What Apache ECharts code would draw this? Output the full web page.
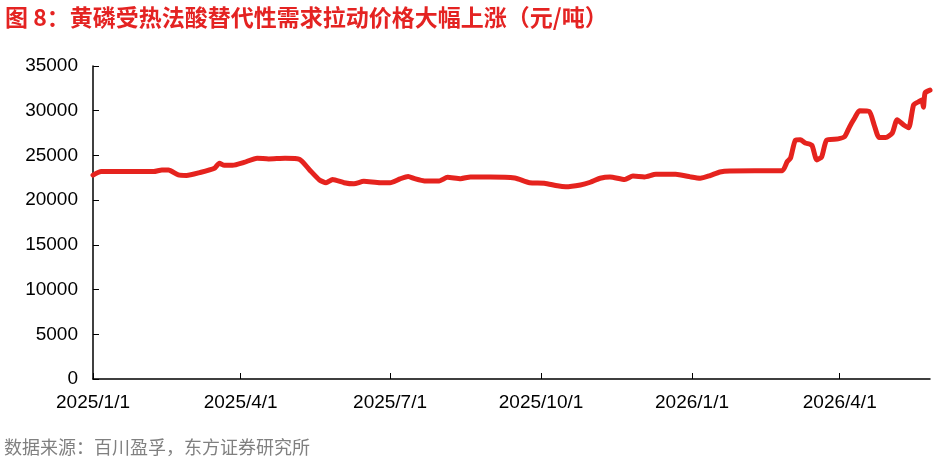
<!DOCTYPE html>
<html><head><meta charset="utf-8">
<script src="https://cdn.jsdelivr.net/npm/echarts@6/dist/echarts.min.js"></script>
<style>html,body{margin:0;padding:0;background:#fff;}#c{width:938px;height:459px;}</style>
</head><body><div id="c"></div>
<script>
const titleText = '图 8：黄磷受热法酸替代性需求拉动价格大幅上涨（元/吨）';
const sourceText = '数据来源：百川盈孚，东方证券研究所';
const dates = ['2025-01-01','2025-01-06','2025-02-07','2025-02-12','2025-02-16','2025-02-22','2025-02-27','2025-03-07','2025-03-16','2025-03-19','2025-03-22','2025-03-27','2025-04-03','2025-04-11','2025-04-18','2025-04-28','2025-05-07','2025-05-13','2025-05-19','2025-05-23','2025-05-27','2025-06-03','2025-06-09','2025-06-15','2025-06-25','2025-07-01','2025-07-07','2025-07-12','2025-07-16','2025-07-22','2025-07-31','2025-08-05','2025-08-13','2025-08-19','2025-08-31','2025-09-15','2025-09-24','2025-10-03','2025-10-11','2025-10-16','2025-10-25','2025-10-31','2025-11-06','2025-11-12','2025-11-21','2025-11-26','2025-12-03','2025-12-10','2025-12-22','2025-12-31','2026-01-06','2026-01-12','2026-01-18','2026-01-24','2026-02-25','2026-02-28','2026-03-02','2026-03-05','2026-03-08','2026-03-11','2026-03-15','2026-03-18','2026-03-21','2026-03-24','2026-03-31','2026-04-04','2026-04-07','2026-04-10','2026-04-13','2026-04-19','2026-04-22','2026-04-25','2026-04-29','2026-05-03','2026-05-06','2026-05-10','2026-05-13','2026-05-16','2026-05-19','2026-05-21','2026-05-22','2026-05-23','2026-05-26'];
const prices = [22800,23200,23200,23380,23380,22820,22760,23080,23570,24120,23900,23900,24220,24690,24610,24690,24550,23380,22260,21950,22300,21950,21820,22100,21950,21950,22370,22650,22400,22150,22150,22550,22400,22600,22600,22480,21950,21900,21600,21500,21700,22000,22450,22600,22300,22700,22600,22900,22900,22600,22450,22750,23150,23270,23300,24300,24700,26700,26750,26400,26150,24500,24850,26700,26850,27100,28200,29150,30000,29900,28400,27000,27000,27500,29000,28400,28100,30650,31000,31200,30400,32000,32300];
const tickDates = ['2025-01-01','2025-04-01','2025-07-01','2025-10-01','2026-01-01','2026-04-01'];
const yMin = 0, yMax = 35000, yStep = 5000;

function ts(s){ const p = s.split('-').map(Number); return Date.UTC(p[0], p[1]-1, p[2]); }
const seriesData = dates.map((d,i)=>[ts(d), prices[i]]);
const tickTs = tickDates.map(ts);

const chart = echarts.init(document.getElementById('c'));
chart.setOption({
  animation:false,
  backgroundColor:'#fff',
  title:[
    {text:titleText,left:0,top:1,textStyle:{color:'#e42322',fontSize:23,fontWeight:'bold',fontFamily:'"Noto Sans CJK SC", sans-serif'}},
    {text:sourceText,left:-1,top:433,textStyle:{color:'#808080',fontSize:18,fontWeight:'normal',fontFamily:'"Noto Sans CJK SC", sans-serif'}}
  ],
  grid:{left:93,right:8,top:66,bottom:80,containLabel:false},
  xAxis:{
    type:'value',
    min:ts(dates[0]), max:ts(dates[dates.length-1]),
    axisLine:{show:true,lineStyle:{color:'#000',width:1.5}},
    axisTick:{show:true,inside:true,length:6,lineStyle:{color:'#000'},customValues:tickTs},
    axisLabel:{customValues:tickTs,color:'#000',fontSize:19,fontFamily:'"Liberation Sans", Arial, sans-serif',margin:14,hideOverlap:false,showMinLabel:true,showMaxLabel:true,
      formatter:function(v){const d=new Date(v);return d.getUTCFullYear()+'/'+(d.getUTCMonth()+1)+'/'+d.getUTCDate();}},
    splitLine:{show:false}
  },
  yAxis:{
    type:'value',min:yMin,max:yMax,interval:yStep,
    axisLine:{show:true,lineStyle:{color:'#000',width:1.5}},
    axisTick:{show:true,inside:true,length:6,lineStyle:{color:'#000'}},
    axisLabel:{color:'#000',fontSize:19,fontFamily:'"Liberation Sans", Arial, sans-serif',margin:15,formatter:function(v){return String(v);}},
    splitLine:{show:false}
  },
  series:[{
    type:'line',data:seriesData,showSymbol:false,symbol:'none',smooth:0.2,
    lineStyle:{color:'#e5231e',width:5,cap:'round',join:'round'}
  }]
});
</script></body></html>
